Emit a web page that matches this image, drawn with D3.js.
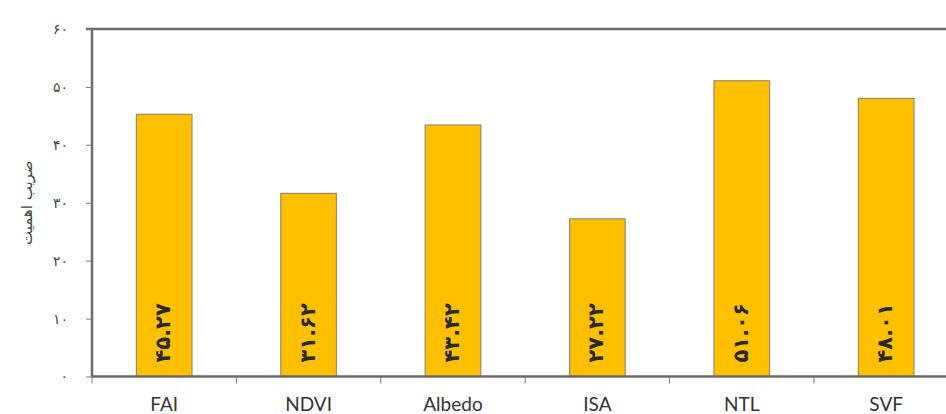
<!DOCTYPE html>
<html><head><meta charset="utf-8">
<script src="https://cdn.jsdelivr.net/npm/d3@7/dist/d3.min.js"></script>
<style>body{margin:0;background:#fff}svg{display:block}</style>
</head><body>
<svg id="c" width="946" height="414"></svg>
<script>
const categories = ["FAI","NDVI","Albedo","ISA","NTL","SVF"];
const values = [45.27, 31.62, 43.42, 27.22, 51.06, 48.01];
const yTicks = [0,10,20,30,40,50,60];
const yTitle = "ضریب اهمیت";

const fa = s => String(s).replace(/[0-9]/g, d => "۰۱۲۳۴۵۶۷۸۹"[d]);

const svg = d3.select("#c");
const mLeft = 92, mTop = 29, mBottom = 376.5, bandW = 144.4;
const x = d3.scaleBand().domain(categories).range([mLeft, mLeft + bandW*categories.length]).paddingInner(0).paddingOuter(0);
const y = d3.scaleLinear().domain([0,60]).range([mBottom, mTop]);
const barW = x.bandwidth()*0.385;

// top border
svg.append("line").attr("x1", mLeft).attr("x2", 946).attr("y1", mTop).attr("y2", mTop)
  .attr("stroke","#6b6b6b").attr("stroke-width",2.5);

// bars
svg.selectAll("rect.bar").data(values).join("rect")
  .attr("x",(d,i)=>x(categories[i]) + x.bandwidth()/2 - barW/2)
  .attr("y",d=>y(d)).attr("width",barW).attr("height",d=>y(0)-y(d))
  .attr("fill","#ffc000").attr("stroke","#9a8a6a").attr("stroke-width",1.2);

// bar labels
svg.selectAll("text.val").data(values).join("text")
  .attr("transform",(d,i)=>`translate(${x(categories[i]) + x.bandwidth()/2 + 6},${y(0)-14}) rotate(-90)`)
  .attr("text-anchor","start")
  .attr("font-family","DejaVu Sans").attr("font-weight","bold").attr("font-size",21)
  .attr("fill","#2a2a2a").text(d=>fa(d.toFixed(2)));

// y axis
const ya = svg.append("g").attr("transform",`translate(${mLeft},0)`)
  .call(d3.axisLeft(y).tickValues(yTicks).tickSize(6).tickPadding(18).tickFormat(d=>fa(d)));
ya.select(".domain").attr("stroke","#6b6b6b").attr("stroke-width",2.5).attr("d",`M-6,${mTop}H0V${mBottom}`);
ya.selectAll(".tick line").attr("stroke","#777");
ya.selectAll(".tick text").attr("font-family","DejaVu Sans").attr("font-size",14).attr("fill","#444");

// x axis
const xa = svg.append("g").attr("transform",`translate(0,${mBottom})`)
  .call(d3.axisBottom(x).tickSize(0).tickPadding(21));
xa.select(".domain").attr("stroke","#6b6b6b").attr("stroke-width",2.5).attr("d",`M${mLeft},0H946`);
xa.selectAll(".tick text").attr("font-family","Lato").attr("font-size",19).attr("fill","#333");
svg.append("g").selectAll("line").data(categories).join("line")
  .attr("x1",d=>x(d)).attr("x2",d=>x(d)).attr("y1",mBottom).attr("y2",mBottom+7)
  .attr("stroke","#777").attr("stroke-width",1);

// y title
svg.append("text").attr("transform",`translate(32,${(mTop+mBottom)/2}) rotate(-90)`)
  .attr("text-anchor","middle").attr("font-family","DejaVu Sans").attr("font-size",15)
  .attr("fill","#444").attr("direction","rtl").text(yTitle);
</script>
</body></html>
